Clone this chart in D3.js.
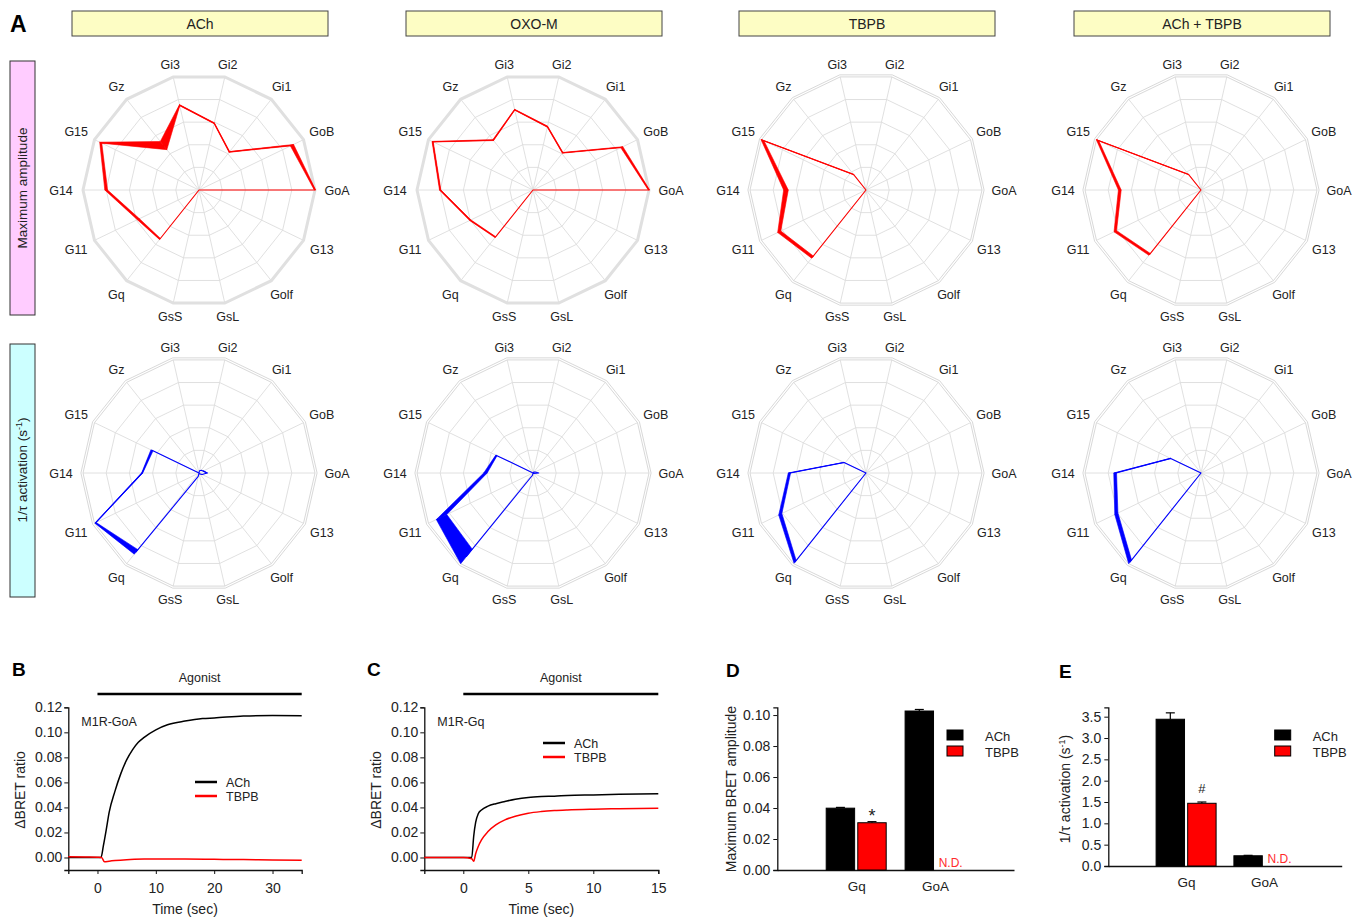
<!DOCTYPE html>
<html>
<head>
<meta charset="utf-8">
<script src="https://cdn.jsdelivr.net/npm/d3@7"></script>
<style>
  body { margin: 0; background: #fff; }
  svg text { font-family: "Liberation Sans", Arial, sans-serif; fill: #222; }
</style>
</head>
<body>
<div id="chart"></div>
<script>
// ---- data ----
const gproteins = ["GoA", "GoB", "Gi1", "Gi2", "Gi3", "Gz", "G15", "G14", "G11", "Gq", "GsS", "GsL", "Golf", "G13"]
const agonists = ["ACh", "OXO-M", "TBPB", "ACh + TBPB"]

// normalized maximum amplitude (mean, SEM)
const ampACh      = [1.00, 0.89, 0.42, 0.59, 0.75, 0.49, 0.94, 0.80, 0.58, 0.54, 0, 0, 0, 0]
const ampAChErr   = [0.006, 0.015, 0.004, 0.004, 0.005, 0.045, 0.010, 0.012, 0.010, 0.006, 0, 0, 0, 0]
const ampOXO      = [1.00, 0.85, 0.41, 0.56, 0.71, 0.55, 0.96, 0.80, 0.60, 0.52, 0, 0, 0, 0]
const ampOXOErr   = [0.006, 0.010, 0.004, 0.005, 0.004, 0.005, 0.006, 0.006, 0.006, 0.005, 0, 0, 0, 0]
const ampTBPB     = [0, 0, 0, 0, 0, 0.17, 0.99, 0.69, 0.83, 0.74, 0, 0, 0, 0]
const ampTBPBErr  = [0, 0, 0, 0, 0, 0.004, 0.015, 0.020, 0.015, 0.012, 0, 0, 0, 0]
const ampBoth     = [0, 0, 0, 0, 0, 0.17, 0.99, 0.70, 0.82, 0.71, 0, 0, 0, 0]
const ampBothErr  = [0, 0, 0, 0, 0, 0.003, 0.012, 0.012, 0.012, 0.010, 0, 0, 0, 0]

// normalized 1/tau activation (mean, SEM)
const rateACh     = [0.07, 0.04, 0.03, 0.02, 0, 0, 0.45, 0.49, 0.99, 0.87, 0.03, 0, 0.01, 0.03]
const rateAChErr  = [0.004, 0.003, 0, 0, 0, 0, 0.010, 0.005, 0.006, 0.025, 0, 0, 0, 0]
const rateOXO     = [0.05, 0.02, 0.01, 0, 0, 0, 0.35, 0.41, 0.875, 0.92, 0.02, 0, 0, 0.01]
const rateOXOErr  = [0.003, 0, 0, 0, 0, 0, 0.006, 0.015, 0.050, 0.080, 0, 0, 0, 0]
const rateTBPB    = [0, 0, 0, 0, 0, 0, 0.21, 0.66, 0.82, 0.98, 0, 0, 0, 0]
const rateTBPBErr = [0, 0, 0, 0, 0, 0, 0.002, 0.010, 0.015, 0.015, 0, 0, 0, 0]
const rateBoth    = [0, 0, 0, 0, 0, 0, 0.29, 0.74, 0.81, 0.98, 0, 0, 0, 0]
const rateBothErr = [0, 0, 0, 0, 0, 0, 0.002, 0.012, 0.015, 0.020, 0, 0, 0, 0]

// panel B traces (M1R-GoA)
const bTimeACh  = [-5, -3, -1, 0, 0.6, 1, 1.5, 2, 3, 4, 5, 6, 7, 8, 10, 12, 15, 18, 20, 25, 30, 35]
const bACh      = [0, 0, 0, 0, 0, 0.009, 0.022, 0.036, 0.053, 0.067, 0.078, 0.086, 0.092, 0.096, 0.102, 0.106, 0.109, 0.111, 0.1115, 0.113, 0.1135, 0.1133]
const bTimeTBPB = [-5, -2, 0, 0.7, 1.2, 2, 3, 5, 8, 10, 15, 20, 25, 30, 35]
const bTBPB     = [0.0006, 0.0004, 0.0002, 0, -0.0035, -0.003, -0.0025, -0.0018, -0.0013, -0.0012, -0.0013, -0.0015, -0.0017, -0.002, -0.0022]

// panel C traces (M1R-Gq)
const cTime = [-3, -1, 0, 0.65, 0.8, 0.95, 1.15, 1.4, 1.9, 2.5, 3.2, 4, 5, 6, 7, 8, 10, 12, 15]
const cACh  = [0, 0, 0, 0, 0.017, 0.028, 0.035, 0.038, 0.041, 0.043, 0.0447, 0.0465, 0.048, 0.0487, 0.049, 0.0495, 0.050, 0.0505, 0.051]
const cTBPB = [0, 0, 0, -0.001, -0.003, 0.003, 0.0088, 0.014, 0.0207, 0.026, 0.030, 0.033, 0.0354, 0.0367, 0.0375, 0.038, 0.0386, 0.039, 0.0394]

// panels D, E bars
const barCats = ["Gq", "GoA"]
const barSeries = ["ACh", "TBPB"]
const ampBarACh     = [0.0399, 0.1026]
const ampBarAChErr  = [0.0005, 0.0010]
const ampBarTBPB    = [0.0305, null]
const ampBarTBPBErr = [0.0007, null]
const rateBarACh     = [3.44, 0.24]
const rateBarAChErr  = [0.15, 0.01]
const rateBarTBPB    = [1.47, null]
const rateBarTBPBErr = [0.03, null]

// ---- drawing ----
let svg = d3.select("#chart").append("svg")
  .attr("width", 1366)
  .attr("height", 918)

const nAx = gproteins.length
const step = 2 * Math.PI / nAx
const R = 116
const rScale = d3.scaleLinear().domain([0, 1]).range([0, R])

function pt(v, i) {
  let a = i * step
  return [rScale(v) * Math.cos(a), -rScale(v) * Math.sin(a)]
}

// radial line: d3 angle is clockwise from 12 o'clock
let ringLine = d3.lineRadial()
  .angle((d, i) => Math.PI / 2 - i * step)
  .radius(d => rScale(d))
  .curve(d3.curveLinearClosed)

function drawRadar(cx, cy, vals, errs, color, doubleRing) {
  let g = svg.append("g").attr("transform", "translate(" + cx + "," + cy + ")")

  // grid rings
  ;[0.2, 0.4, 0.6, 0.8].forEach(v => {
    g.append("path")
      .attr("d", ringLine(gproteins.map(() => v)))
      .attr("fill", "none").attr("stroke", "#dddddd").attr("stroke-width", 0.9)
  })
  gproteins.forEach((name, i) => {
    let p = pt(1, i)
    g.append("line").attr("x1", 0).attr("y1", 0).attr("x2", p[0]).attr("y2", p[1])
      .attr("stroke", "#dddddd").attr("stroke-width", 0.9)
  })
  if (doubleRing) {
    ;[1, 1.018].forEach(v => {
      g.append("path").attr("d", ringLine(gproteins.map(() => v)))
        .attr("fill", "none").attr("stroke", "#d4d4d4").attr("stroke-width", 0.9)
    })
  } else {
    g.append("path").attr("d", ringLine(gproteins.map(() => 1)))
      .attr("fill", "none").attr("stroke", "#e0e0e0").attr("stroke-width", 3)
  }

  // axis labels
  gproteins.forEach((name, i) => {
    let a = i * step
    let c = Math.cos(a)
    let lr = 129 + 9 * c * c
    g.append("text")
      .attr("x", lr * c)
      .attr("y", -lr * Math.sin(a) + 1)
      .attr("text-anchor", "middle")
      .attr("dominant-baseline", "central")
      .attr("font-size", "12.5px")
      .text(name)
  })

  // SEM band on each segment
  vals.forEach((v, i) => {
    let j = (i + 1) % nAx
    if (errs[i] > 0 && errs[j] > 0) {
      let poly = [pt(v + errs[i], i), pt(vals[j] + errs[j], j),
                  pt(Math.max(0, vals[j] - errs[j]), j), pt(Math.max(0, v - errs[i]), i)]
      g.append("path").attr("d", "M" + poly.join("L") + "Z")
        .attr("fill", color).attr("stroke", color).attr("stroke-width", 0.6)
    }
  })

  // mean polygon
  g.append("path")
    .attr("d", ringLine(vals))
    .attr("fill", "none").attr("stroke", color).attr("stroke-width", 1.1)
    .attr("stroke-linejoin", "round")
}

const colX = [199, 533, 866, 1201]
const ampSets = [[ampACh, ampAChErr], [ampOXO, ampOXOErr], [ampTBPB, ampTBPBErr], [ampBoth, ampBothErr]]
const rateSets = [[rateACh, rateAChErr], [rateOXO, rateOXOErr], [rateTBPB, rateTBPBErr], [rateBoth, rateBothErr]]

// header boxes
agonists.forEach((name, k) => {
  let cx = colX[k] + 1
  svg.append("rect").attr("x", cx - 128).attr("y", 11).attr("width", 256).attr("height", 25)
    .attr("fill", "#fdfdc4").attr("stroke", "#444").attr("stroke-width", 1)
  svg.append("text").attr("x", cx).attr("y", 28.5).attr("text-anchor", "middle")
    .attr("font-size", "14px").text(name)
})

agonists.forEach((name, k) => {
  drawRadar(colX[k], 190, ampSets[k][0], ampSets[k][1], "#ff0000", k >= 2)
  drawRadar(colX[k], 473, rateSets[k][0], rateSets[k][1], "#0000ff", true)
})

// row labels
svg.append("rect").attr("x", 10).attr("y", 61).attr("width", 25).attr("height", 254)
  .attr("fill", "#ffccff").attr("stroke", "#333")
svg.append("text").attr("transform", "translate(27,188) rotate(-90)")
  .attr("text-anchor", "middle").attr("font-size", "13.5px").text("Maximum amplitude")
svg.append("rect").attr("x", 10).attr("y", 344).attr("width", 25).attr("height", 253)
  .attr("fill", "#ccffff").attr("stroke", "#333")
let rowLab = svg.append("text").attr("transform", "translate(27,470) rotate(-90)")
  .attr("text-anchor", "middle").attr("font-size", "13.5px")
rowLab.append("tspan").text("1/\u03c4 activation (s")
rowLab.append("tspan").attr("font-size", "9px").attr("dy", -5).text("-1")
rowLab.append("tspan").attr("dy", 5).text(")")

// panel letters
;[["A", 10, 32, 23], ["B", 12, 676, 19], ["C", 367, 676, 19], ["D", 726, 677, 19], ["E", 1059, 678, 19]]
  .forEach(l => {
    svg.append("text").attr("x", l[1]).attr("y", l[2]).attr("font-size", l[3] + "px")
      .attr("font-weight", "bold").style("fill", "#000").text(l[0])
  })

function styleAxis(sel) {
  sel.select(".domain").attr("stroke", "#111").attr("stroke-width", 1.3)
  sel.selectAll(".tick line").attr("stroke", "#111")
  sel.selectAll(".tick text").attr("font-size", "14px").attr("font-family", "Liberation Sans, Arial, sans-serif").style("fill", "#222")
}

// ---- trace panels B, C ----
function tracePanel(x0, x1, xDom, xTicks, traces, tag, legX, legY) {
  let x = d3.scaleLinear().domain(xDom).range([x0, x1])
  let y = d3.scaleLinear().domain([-0.01, 0.12]).range([870, 707.3])

  let yAxis = svg.append("g").attr("transform", "translate(" + x0 + ",0)")
    .call(d3.axisLeft(y).tickValues(d3.range(0, 0.121, 0.02)).tickFormat(d3.format(".2f")).tickSizeOuter(0).tickSize(4).tickPadding(2))
  styleAxis(yAxis)
  let xAxis = svg.append("g").attr("transform", "translate(0,870)")
    .call(d3.axisBottom(x).tickValues(xTicks).tickSizeOuter(0).tickSize(4).tickPadding(9))
  styleAxis(xAxis)

  // agonist bar
  svg.append("line").attr("x1", x(0)).attr("x2", x1).attr("y1", 694).attr("y2", 694)
    .attr("stroke", "#000").attr("stroke-width", 2.5)
  svg.append("text").attr("x", (x(0) + x1) / 2).attr("y", 682).attr("text-anchor", "middle")
    .attr("font-size", "12.5px").text("Agonist")

  let line = d3.line().x(d => x(d[0])).y(d => y(d[1])).curve(d3.curveMonotoneX)
  traces.forEach(t => {
    svg.append("path").attr("d", line(d3.zip(t.t, t.v)))
      .attr("fill", "none").attr("stroke", t.color).attr("stroke-width", 1.5)
  })

  svg.append("text").attr("x", x0 + 13).attr("y", 726).attr("font-size", "12.5px").text(tag)
  traces.forEach((t, k) => {
    svg.append("line").attr("x1", legX).attr("x2", legX + 22).attr("y1", legY + k * 14).attr("y2", legY + k * 14)
      .attr("stroke", t.color).attr("stroke-width", 2.5)
    svg.append("text").attr("x", legX + 31).attr("y", legY + k * 14 + 4.5).attr("font-size", "12.5px").text(t.name)
  })

  svg.append("text").attr("x", (x0 + x1) / 2).attr("y", 914).attr("text-anchor", "middle")
    .attr("font-size", "14px").text("Time (sec)")
  svg.append("text").attr("transform", "translate(" + (x0 - 43) + ",790) rotate(-90)")
    .attr("text-anchor", "middle").attr("font-size", "14px").text("\u0394BRET ratio")
}

tracePanel(68.3, 301.7, [-5, 35], [0, 10, 20, 30], [
  {name: "ACh", t: bTimeACh, v: bACh, color: "#000"},
  {name: "TBPB", t: bTimeTBPB, v: bTBPB, color: "#ff0000"}
], "M1R-GoA", 195, 782)

tracePanel(424.3, 658.3, [-3, 15], [0, 5, 10, 15], [
  {name: "ACh", t: cTime, v: cACh, color: "#000"},
  {name: "TBPB", t: cTime, v: cTBPB, color: "#ff0000"}
], "M1R-Gq", 543, 743)

// ---- bar panels D, E ----
function barPanel(x0, x1, yBottom, yDom, yTicks, fmt, acc, accErr, tb, tbErr, mark, markDy, titleX) {
  let x = d3.scalePoint().domain(barCats).range([x0, x1]).padding(1)
  let sub = d3.scaleBand().domain(barSeries).range([-30, 30]).paddingInner(0.1)
  let y = d3.scaleLinear().domain(yDom).range([yBottom, 707.3])

  let yAxis = svg.append("g").attr("transform", "translate(" + x0 + ",0)")
    .call(d3.axisLeft(y).tickValues(yTicks).tickFormat(d3.format(fmt)).tickSizeOuter(0).tickSize(4).tickPadding(3))
  styleAxis(yAxis)
  let xAxis = svg.append("g").attr("transform", "translate(0," + yBottom + ")")
    .call(d3.axisBottom(x).tickSize(0).tickPadding(11).tickSizeOuter(0))
  styleAxis(xAxis)
  xAxis.selectAll(".tick text").attr("font-size", "13.5px")

  let series = [[acc, accErr, "#000"], [tb, tbErr, "#ff0000"]]
  series.forEach((s, k) => {
    barCats.forEach((cat, i) => {
      let v = s[0][i]
      let bx = x(cat) + sub(barSeries[k])
      if (v === null) {
        svg.append("text").attr("x", bx + 2).attr("y", yBottom - 3).attr("font-size", "12px")
          .style("fill", "#ff2a2a").text("N.D.")
        return
      }
      let cx = bx + sub.bandwidth() / 2
      svg.append("line").attr("x1", cx).attr("x2", cx).attr("y1", y(v)).attr("y2", y(v + s[1][i]))
        .attr("stroke", "#000").attr("stroke-width", 1.2)
      svg.append("line").attr("x1", cx - 4.5).attr("x2", cx + 4.5).attr("y1", y(v + s[1][i])).attr("y2", y(v + s[1][i]))
        .attr("stroke", "#000").attr("stroke-width", 1.2)
      svg.append("rect").attr("x", bx).attr("y", y(v)).attr("width", sub.bandwidth()).attr("height", yBottom - y(v))
        .attr("fill", s[2]).attr("stroke", "#000").attr("stroke-width", 1)
    })
  })
  // significance mark over TBPB Gq
  let mx = x("Gq") + sub("TBPB") + sub.bandwidth() / 2
  svg.append("text").attr("x", mx).attr("y", y(tb[0] + tbErr[0]) + markDy).attr("text-anchor", "middle")
    .attr("font-size", mark === "*" ? "18px" : "13px").text(mark)

  // legend
  let lx = x1 - 67
  barSeries.forEach((name, k) => {
    svg.append("rect").attr("x", lx).attr("y", 730 + k * 16).attr("width", 16).attr("height", 10)
      .attr("fill", k === 0 ? "#000" : "#ff0000").attr("stroke", "#000")
    svg.append("text").attr("x", lx + 38).attr("y", 740.5 + k * 16).attr("font-size", "13px").text(name)
  })

  return svg.append("text").attr("transform", "translate(" + titleX + ",789) rotate(-90)")
    .attr("text-anchor", "middle").attr("font-size", "14px")
}

barPanel(777.3, 1014, 870, [0, 0.105], d3.range(0, 0.101, 0.02), ".2f",
  ampBarACh, ampBarAChErr, ampBarTBPB, ampBarTBPBErr, "*", 0, 736)
  .text("Maximum BRET amplitude")

let eTitle = barPanel(1108.3, 1341.7, 866, [0, 3.72], d3.range(0, 3.51, 0.5), ".1f",
  rateBarACh, rateBarAChErr, rateBarTBPB, rateBarTBPBErr, "#", -9, 1070)
eTitle.append("tspan").text("1/\u03c4 activation (s")
eTitle.append("tspan").attr("font-size", "9px").attr("dy", -5).text("-1")
eTitle.append("tspan").attr("dy", 5).text(")")
</script>
</body>
</html>
